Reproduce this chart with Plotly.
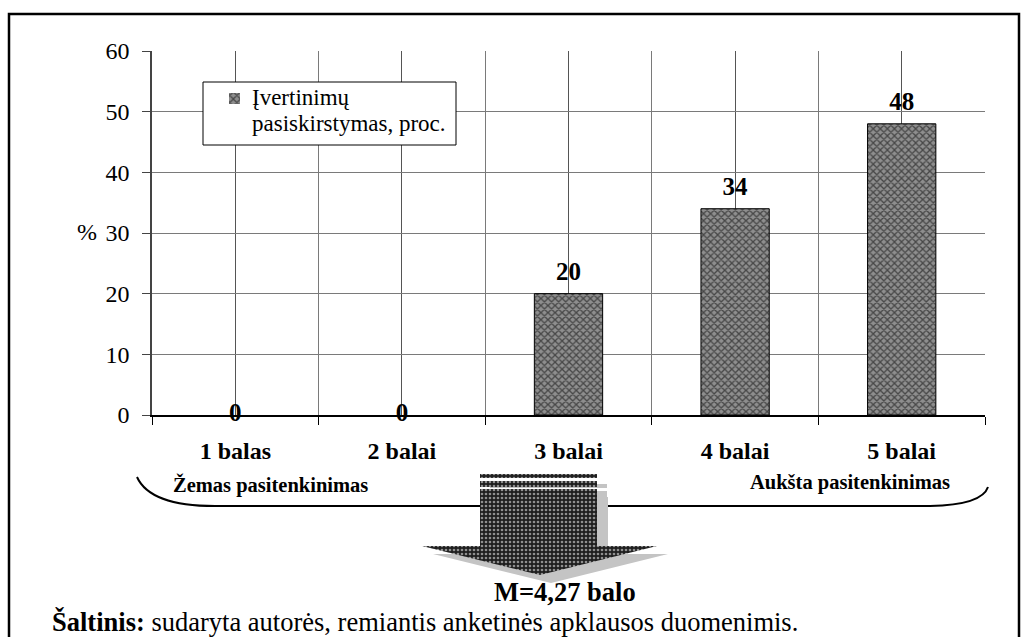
import plotly.graph_objects as go

# Survey scores: share of respondents per score, %
categories = ["1 balas", "2 balai", "3 balai", "4 balai", "5 balai"]
shares = [0, 0, 20, 34, 48]
y_ticks = [0, 10, 20, 30, 40, 50, 60]
legend_lines = ["Įvertinimų", "pasiskirstymas, proc."]
mean_label = "M=4,27 balo"
low_label = "Žemas pasitenkinimas"
high_label = "Aukšta pasitenkinimas"
source_label = "<b>Šaltinis:</b> sudaryta autorės, remiantis anketinės apklausos duomenimis."

W, H = 1028, 637
SERIF = "Liberation Serif, Times New Roman, serif"

# Plot area in pixels
PL, PR, PT, PB = 152, 985, 51, 415

positions = list(range(1, len(categories) + 1))
half_steps = [p - 0.5 for p in positions] + [positions[-1] + 0.5]

BAR_PATTERN = dict(shape="x", bgcolor="#8e8e8e", fgcolor="black", size=5, solidity=0.45)

fig = go.Figure()

fig.add_trace(go.Bar(
    x=positions, y=shares, width=0.41, name=" ".join(legend_lines),
    marker=dict(
        color="#8e8e8e",
        line=dict(color="black", width=[1 if v > 0 else 0 for v in shares]),
        pattern=BAR_PATTERN,
    ),
    showlegend=False, hoverinfo="skip", xaxis="x", yaxis="y",
))

# Value labels: above each bar, centred on the axis for empty bars
fig.add_trace(go.Scatter(
    x=positions, y=shares, mode="markers+text",
    text=[str(v) for v in shares],
    textposition=["top center" if v > 0 else "middle center" for v in shares],
    marker=dict(size=11, color="rgba(0,0,0,0)"),
    textfont=dict(family=SERIF, size=25, color="black", weight="bold"),
    cliponaxis=False, showlegend=False, hoverinfo="skip", xaxis="x", yaxis="y",
))


def px_poly(pts):
    xs = [p[0] for p in pts] + [pts[0][0]]
    ys = [p[1] for p in pts] + [pts[0][1]]
    return xs, ys


def add_fill(pts, **kw):
    xs, ys = px_poly(pts)
    fig.add_trace(go.Scatter(x=xs, y=ys, mode="lines", fill="toself",
                             line=dict(width=0), showlegend=False, hoverinfo="skip",
                             xaxis="x2", yaxis="y2", **kw))


# Arrow pointing down to the mean score, with its soft grey shadow
arrow = [(480, 489), (597, 489), (597, 546), (657, 546), (540, 575), (422, 546), (480, 546)]
stripes = [[(480, 474), (597, 474), (597, 478), (480, 478)],
           [(480, 481), (597, 481), (597, 487), (480, 487)]]
shadow = [(x + 11, y + 8) for x, y in arrow]
shadow_stripes = [[(x + 10, y + 10) for x, y in s] for s in stripes]

for poly in [shadow] + shadow_stripes:
    add_fill(poly, fillcolor="#c4c4c4")

for poly in [arrow] + stripes:
    add_fill(poly, fillcolor="#1e1e1e",
             fillpattern=dict(shape=".", bgcolor="#1e1e1e", fgcolor="white", size=4, solidity=0.35))

# Legend key swatch
add_fill([(229, 93), (240, 93), (240, 104), (229, 104)], fillcolor="#8e8e8e",
         fillpattern=BAR_PATTERN)

grid = "#7a7a7a"
fig.update_layout(
    width=W, height=H,
    margin=dict(l=0, r=0, t=0, b=0, autoexpand=False),
    paper_bgcolor="white", plot_bgcolor="rgba(0,0,0,0)",
    font=dict(family=SERIF, size=23, color="black"),
    showlegend=False,
    xaxis=dict(
        domain=[PL / W, PR / W], range=[0.5, len(categories) + 0.5],
        tickvals=positions, ticktext=[f"<b>{c}</b>" for c in categories],
        tickfont=dict(family=SERIF, size=24),
        ticks="", ticklabelstandoff=13,
        showgrid=True, gridcolor="#555555", gridwidth=1,
        showline=True, linecolor="black", linewidth=1.5,
        zeroline=False, fixedrange=True, automargin=False,
        minor=dict(tickvals=half_steps, showgrid=True, gridcolor=grid, gridwidth=1,
                   ticks="outside", ticklen=8, tickcolor="black", tickwidth=1),
        anchor="y",
    ),
    yaxis=dict(
        domain=[1 - PB / H, 1 - PT / H], range=[0, 60],
        tickvals=y_ticks, tickfont=dict(family=SERIF, size=24),
        ticks="outside", ticklen=8, tickcolor="#444444", ticklabelstandoff=8,
        showgrid=True, gridcolor=grid, gridwidth=1,
        showline=True, linecolor="#444444", linewidth=1.5,
        zeroline=False, fixedrange=True, automargin=False, anchor="x",
    ),
    xaxis2=dict(domain=[0, 1], range=[0, W], visible=False, anchor="y2",
                fixedrange=True, automargin=False),
    yaxis2=dict(domain=[0, 1], range=[H, 0], visible=False, anchor="x2",
                fixedrange=True, automargin=False),
)

# Outer frame, legend box and the brace under the axis
fig.add_shape(type="rect", xref="x2", yref="y2", x0=9, y0=14, x1=1019, y1=660,
              line=dict(color="black", width=2.5), layer="above")
fig.add_shape(type="rect", xref="x2", yref="y2", x0=203, y0=82, x1=456, y1=145,
              line=dict(color="black", width=1), fillcolor="white", layer="between")
fig.add_shape(type="path", xref="x2", yref="y2",
              path="M 137,477 Q 150,506 215,506 L 930,506 Q 982,505 988,487",
              line=dict(color="black", width=2), layer="below")


def note(text, x, y, size, bold=False, xanchor="center"):
    fig.add_annotation(text=f"<b>{text}</b>" if bold else text,
                       xref="x2", yref="y2", x=x, y=y, showarrow=False,
                       xanchor=xanchor, yanchor="middle",
                       font=dict(family=SERIF, size=size, color="black"))


note(legend_lines[0], 250, 97, 23, xanchor="left")
note(legend_lines[1], 250, 123, 23, xanchor="left")
note("%", 87, 232, 24)
note(low_label, 270, 485, 20.5, bold=True)
note(high_label, 850, 482, 20.5, bold=True)
note(mean_label, 565, 592, 26.5, bold=True)
note(source_label, 50, 622, 26.5, xanchor="left")

fig.write_html("out.html")
